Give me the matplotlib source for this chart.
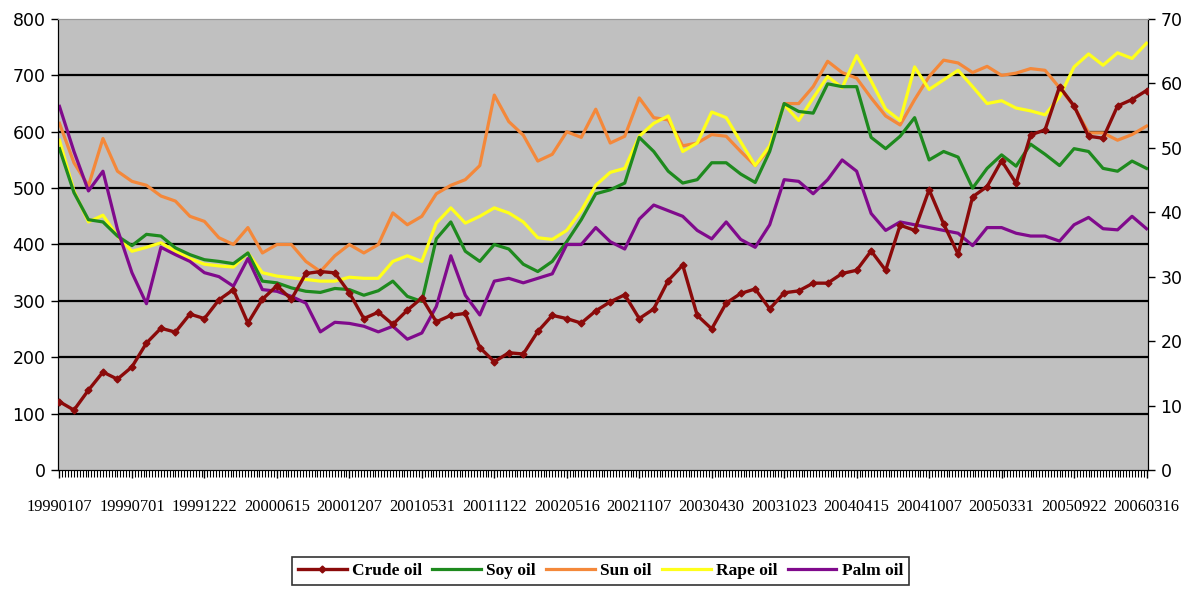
import numpy as np
import matplotlib
matplotlib.use("Agg")
import matplotlib.pyplot as plt

# weekly prices, read every 5th week (19990107 .. 20060316)
weeks = np.arange(0, 376, 5)

date_labels = ["19990107", "19990701", "19991222", "20000615", "20001207",
               "20010531", "20011122", "20020516", "20021107", "20030430",
               "20031023", "20040415", "20041007", "20050331", "20050922",
               "20060316"]

soy = [570, 492, 444, 440, 415, 398, 418, 415, 394, 382,
       373, 370, 366, 385, 335, 332, 323, 317, 315, 322,
       320, 310, 318, 335, 308, 299, 410, 440, 388, 370,
       400, 392, 365, 352, 370, 405, 444, 490, 497, 509,
       590, 565, 530, 509, 515, 545, 545, 525, 510, 565,
       650, 636, 633, 685, 680, 680, 590, 570, 592, 625,
       550, 565, 555, 500, 535, 559, 539, 578, 560, 540,
       570, 565, 535, 530, 548, 535]

sun = [615, 545, 504, 588, 530, 512, 505, 486, 477, 450,
       441, 412, 400, 430, 385, 400, 400, 370, 352, 380,
       400, 385, 400, 456, 435, 450, 490, 505, 515, 540,
       665, 618, 594, 548, 560, 600, 590, 640, 580, 592,
       660, 625, 621, 575, 580, 595, 592, 565, 540, 570,
       650, 650, 680, 725, 705, 695, 660, 628, 612, 657,
       698, 727, 722, 705, 716, 700, 704, 712, 709, 678,
       645, 598, 598, 585, 595, 610]

rape = [585, 495, 440, 452, 415, 388, 395, 403, 388, 375,
        365, 362, 360, 385, 350, 344, 341, 338, 335, 335,
        342, 340, 340, 370, 380, 370, 438, 465, 438, 450,
        465, 456, 440, 412, 409, 425, 460, 505, 528, 535,
        592, 615, 628, 565, 580, 635, 625, 582, 540, 575,
        648, 620, 660, 698, 678, 735, 690, 640, 620, 715,
        675, 692, 709, 680, 650, 655, 642, 637, 630, 662,
        715, 738, 718, 740, 730, 757]

palm = [645, 565, 495, 530, 427, 350, 295, 395, 382, 370,
        350, 343, 326, 375, 320, 317, 308, 296, 245, 262,
        260, 255, 245, 255, 232, 243, 290, 380, 310, 275,
        335, 340, 332, 340, 348, 400, 400, 430, 405, 392,
        445, 470, 460, 450, 425, 410, 440, 409, 395, 435,
        515, 512, 490, 515, 550, 530, 455, 425, 440, 435,
        430, 425, 420, 398, 430, 430, 420, 415, 415, 406,
        435, 448, 428, 426, 450, 428]

# crude oil, right axis (USD)
crude = [10.6, 9.3, 12.4, 15.2, 14.1, 16.0, 19.7, 22.0, 21.4, 24.2,
         23.5, 26.4, 28.0, 22.8, 26.5, 28.6, 26.5, 30.5, 30.8, 30.6,
         27.5, 23.5, 24.5, 22.6, 24.8, 26.7, 23.0, 24.0, 24.3, 19.0,
         16.8, 18.2, 18.0, 21.5, 24.0, 23.5, 22.8, 24.7, 26.1, 27.2,
         23.5, 25.0, 29.4, 31.8, 24.0, 21.9, 25.9, 27.4, 28.1, 25.0,
         27.5, 27.8, 29.0, 29.0, 30.5, 31.0, 34.0, 31.0, 38.0, 37.2,
         43.5, 38.2, 33.5, 42.4, 44.0, 48.0, 44.5, 52.0, 52.8, 59.5,
         56.5, 51.8, 51.5, 56.5, 57.5, 58.9]

fig = plt.figure(figsize=(11.89, 5.90), dpi=100)
ax = fig.add_axes([0.0488, 0.2034, 0.9167, 0.7644])
ax.set_facecolor("#C0C0C0")

for v in range(100, 800, 100):
    ax.axhline(v, color="black", lw=1.6, zorder=1)

l_soy, = ax.plot(weeks, soy, color="#1E8A1E", lw=2.3, zorder=3)
l_sun, = ax.plot(weeks, sun, color="#F4883A", lw=2.3, zorder=2)
l_rape, = ax.plot(weeks, rape, color="#FFFF1A", lw=2.3, zorder=2.5)
l_palm, = ax.plot(weeks, palm, color="#800A8C", lw=2.3, zorder=3)

ax.set_xlim(-0.5, 375.5)
ax.set_ylim(0, 800)
ax.set_yticks(range(0, 801, 100))
ax.set_xticks(np.arange(len(date_labels)) * 25)
ax.set_xticklabels(date_labels, family=["Liberation Serif", "DejaVu Serif"], fontsize=11.8)
ax.set_xticks(np.arange(0, 376), minor=True)
ax.tick_params(axis="x", which="major", length=6, width=1, pad=15, direction="out")
ax.tick_params(axis="x", which="minor", length=5, width=0.8, direction="out")
ax.tick_params(axis="y", length=5, width=1, pad=4, labelsize=12.5)

ax2 = ax.twinx()
l_crude, = ax2.plot(weeks, crude, color="#8B0A0A", lw=2.4, marker="D",
                    markersize=3.5, zorder=5)
ax2.set_ylim(0, 70)
ax2.set_yticks(range(0, 71, 10))
ax2.tick_params(axis="y", length=5, width=1, pad=4, labelsize=12.5)

for a in (ax, ax2):
    a.spines["top"].set_color("#9A9A9A")
    a.spines["left"].set_color("black")
    a.spines["right"].set_color("black")
    a.spines["bottom"].set_color("black")

leg = fig.legend([l_crude, l_soy, l_sun, l_rape, l_palm],
                 ["Crude oil", "Soy oil", "Sun oil", "Rape oil", "Palm oil"],
                 loc="center", bbox_to_anchor=(0.505, 0.032), ncol=5,
                 frameon=True, fancybox=False, edgecolor="black",
                 prop={"family": ["Liberation Serif", "DejaVu Serif"], "weight": "bold", "size": 12.5},
                 handlelength=2.8, columnspacing=0.6, handletextpad=0.3,
                 borderpad=0.35, numpoints=1)
leg.get_frame().set_linewidth(1.2)

plt.savefig("out.png", dpi=100)
